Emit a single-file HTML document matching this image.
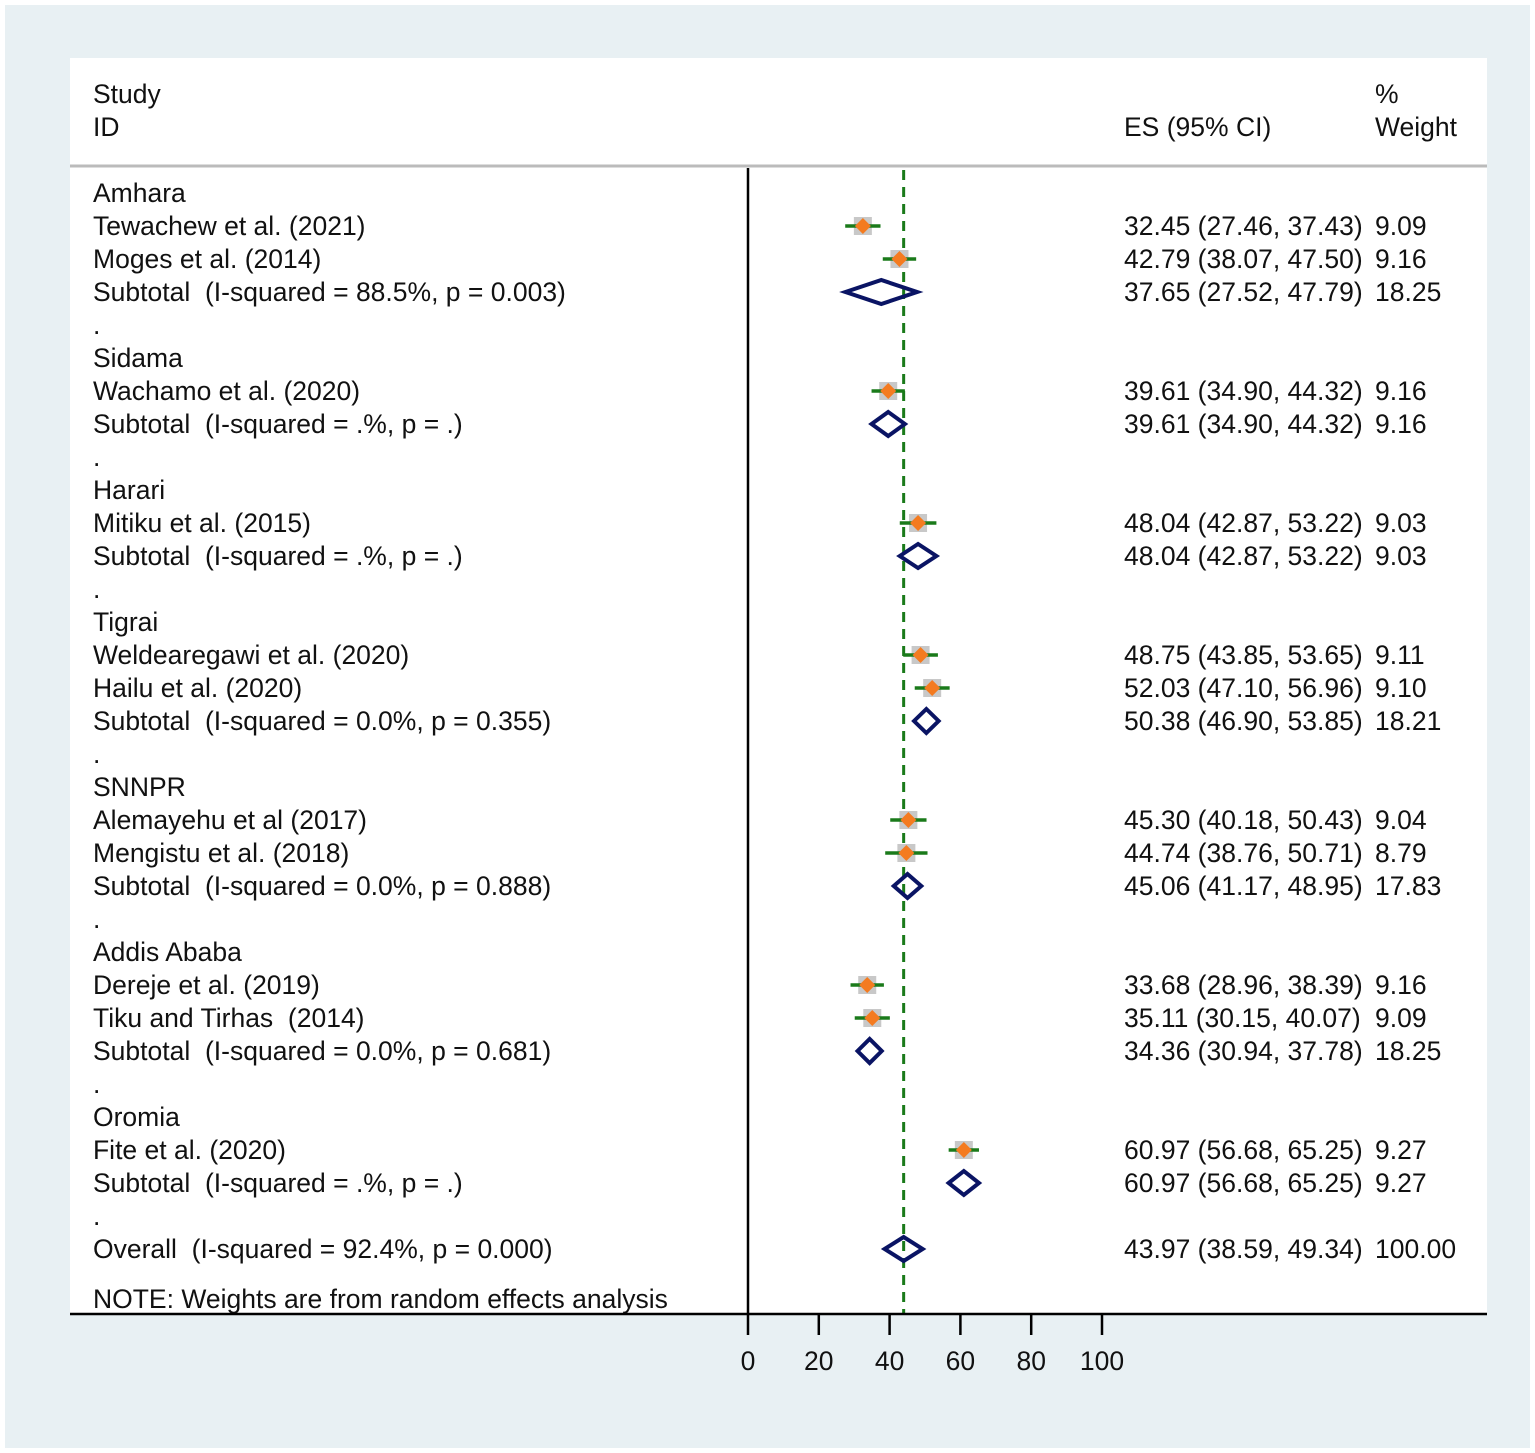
<!DOCTYPE html>
<html><head><meta charset="utf-8"><style>
html,body{margin:0;padding:0;background:#fff}
svg{display:block}
text{font-family:"Liberation Sans",Arial,sans-serif;font-size:26.5px;fill:#111;white-space:pre}
</style></head><body>
<svg id="chart" width="1535" height="1453" xmlns="http://www.w3.org/2000/svg" xml:space="preserve">
<rect x="5" y="5" width="1525" height="1443" fill="#e8f0f3"/>
<rect x="70" y="58" width="1417" height="1256" fill="#fff"/>
<text x="93" y="103">Study</text>
<text x="93" y="136">ID</text>
<text x="1124" y="136">ES (95% CI)</text>
<text x="1375" y="103">%</text>
<text x="1375" y="136">Weight</text>
<line x1="70" y1="166" x2="1487" y2="166" stroke="#bbb" stroke-width="3"/>
<line x1="748" y1="168" x2="748" y2="1314" stroke="#000" stroke-width="2.5"/>
<g id="marks"></g>
<line x1="70" y1="1314" x2="1487" y2="1314" stroke="#000" stroke-width="2.5"/>
<g id="axis"></g>
</svg>
<script>
const labels=["Amhara","Tewachew et al. (2021)","Moges et al. (2014)","Subtotal  (I-squared = 88.5%, p = 0.003)",".","Sidama","Wachamo et al. (2020)","Subtotal  (I-squared = .%, p = .)",".","Harari","Mitiku et al. (2015)","Subtotal  (I-squared = .%, p = .)",".","Tigrai","Weldearegawi et al. (2020)","Hailu et al. (2020)","Subtotal  (I-squared = 0.0%, p = 0.355)",".","SNNPR","Alemayehu et al (2017)","Mengistu et al. (2018)","Subtotal  (I-squared = 0.0%, p = 0.888)",".","Addis Ababa","Dereje et al. (2019)","Tiku and Tirhas  (2014)","Subtotal  (I-squared = 0.0%, p = 0.681)",".","Oromia","Fite et al. (2020)","Subtotal  (I-squared = .%, p = .)",".","Overall  (I-squared = 92.4%, p = 0.000)"];
const kinds=["h","s","s","d","b","h","s","d","b","h","s","d","b","h","s","s","d","b","h","s","s","d","b","h","s","s","d","b","h","s","d","b","d"];
const es=[null,32.45,42.79,37.65,null,null,39.61,39.61,null,null,48.04,48.04,null,null,48.75,52.03,50.38,null,null,45.30,44.74,45.06,null,null,33.68,35.11,34.36,null,null,60.97,60.97,null,43.97];
const lo=[null,27.46,38.07,27.52,null,null,34.90,34.90,null,null,42.87,42.87,null,null,43.85,47.10,46.90,null,null,40.18,38.76,41.17,null,null,28.96,30.15,30.94,null,null,56.68,56.68,null,38.59];
const hi=[null,37.43,47.50,47.79,null,null,44.32,44.32,null,null,53.22,53.22,null,null,53.65,56.96,53.85,null,null,50.43,50.71,48.95,null,null,38.39,40.07,37.78,null,null,65.25,65.25,null,49.34];
const weights=[null,"9.09","9.16","18.25",null,null,"9.16","9.16",null,null,"9.03","9.03",null,null,"9.11","9.10","18.21",null,null,"9.04","8.79","17.83",null,null,"9.16","9.09","18.25",null,null,"9.27","9.27",null,"100.00"];
const overallES=43.97;
const ticks=[0,20,40,60,80,100];
const NS="http://www.w3.org/2000/svg";
const xs=v=>748+v*3.54;
const ys=i=>i<32?193+i*33:1249;
const g=document.getElementById('marks');
function mk(t,a){const e=document.createElementNS(NS,t);for(const k in a)e.setAttribute(k,a[k]);return e;}
const ol=mk('line',{x1:xs(overallES),x2:xs(overallES),y1:170,y2:1314,stroke:'#1a7a1a','stroke-width':3,'stroke-dasharray':'10,7'});


g.appendChild(ol);
labels.forEach((lab,i)=>{
 const y=ys(i);
 const t=mk('text',{x:93,y:y+9});t.textContent=lab;
 
 
 g.appendChild(t);
 if(es[i]==null)return;
 const f=v=>v.toFixed(2);
 const c=mk('text',{x:1124,y:y+9});c.textContent=f(es[i])+" ("+f(lo[i])+", "+f(hi[i])+")";
 
 
 g.appendChild(c);
 const w=mk('text',{x:1375,y:y+9});w.textContent=weights[i];
 
 
 g.appendChild(w);
 const x=xs(es[i]);
 if(kinds[i]=="s"){
  const sq=mk('rect',{x:x-9,y:y-9,width:18,height:18,fill:'#c8c8c8'});
  
  
  g.appendChild(sq);
  const ln=mk('line',{x1:xs(lo[i]),x2:xs(hi[i]),y1:y,y2:y,stroke:'#1a7a1a','stroke-width':3.5});
  
  
  g.appendChild(ln);
  const d=mk('polygon',{points:`${x-8},${y} ${x},${y-8} ${x+8},${y} ${x},${y+8}`,fill:'#f47b20'});
  
  
  g.appendChild(d);
 } else {
  const d=mk('polygon',{points:`${xs(lo[i])},${y} ${x},${y-12} ${xs(hi[i])},${y} ${x},${y+12}`,fill:'none',stroke:'#0a1464','stroke-width':4});
  
  
  g.appendChild(d);
 }
});
const note=mk('text',{x:93,y:1308});note.textContent="NOTE: Weights are from random effects analysis";


g.appendChild(note);
const ax=document.getElementById('axis');
ticks.forEach(v=>{
 const l=mk('line',{x1:xs(v),x2:xs(v),y1:1314,y2:1335,stroke:'#000','stroke-width':2.5});
 
 
 ax.appendChild(l);
 const t=mk('text',{x:xs(v),y:1370,'text-anchor':'middle'});t.textContent=v;
 
 
 ax.appendChild(t);
});
</script>
</body></html>
